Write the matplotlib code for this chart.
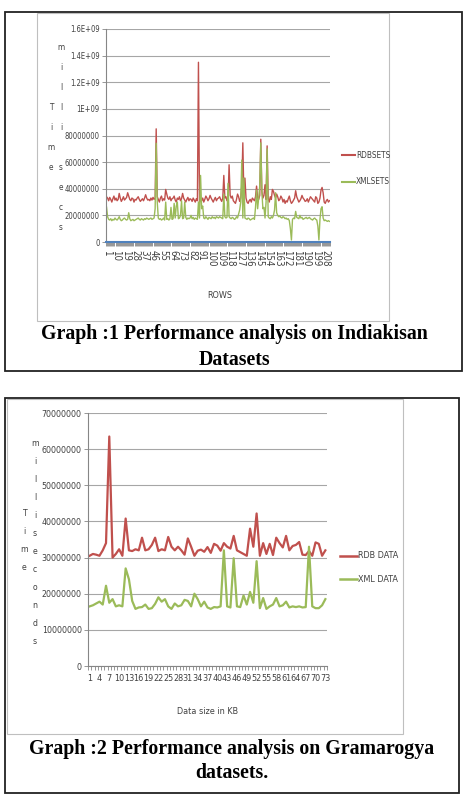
import matplotlib
matplotlib.use("Agg")
import matplotlib.pyplot as plt
from matplotlib import font_manager
from matplotlib.lines import Line2D
import numpy as np

W, H = 465, 795
RED = "#C0504D"
GREEN = "#9BBB59"
BLUE = "#4F81BD"
GRID = "#A6A6A6"
TXT = "#404040"
SERIF = ["Liberation Serif", "DejaVu Serif"]

# pick a narrow sans for the Excel-style labels, shrink if none is installed
_fonts = {(f.name, f.stretch) for f in font_manager.fontManager.ttflist}
_names = {f[0] for f in _fonts}
if "Liberation Sans Narrow" in _names:
    NARROW, STRETCH, SCALE = ["Liberation Sans Narrow"], "normal", 1.0
elif ("DejaVu Sans", "condensed") in _fonts:
    NARROW, STRETCH, SCALE = ["DejaVu Sans"], "condensed", 0.92
else:
    NARROW, STRETCH, SCALE = ["Liberation Sans", "DejaVu Sans"], "normal", 0.82

# ---- Graph 1: Indiakisan datasets (values in millions of ms) ----
rdb_sets = [
    340, 330, 310, 335, 320, 300, 325, 345, 315, 330,
    310, 320, 365, 330, 305, 320, 340, 315, 325, 335,
    370, 345, 320, 310, 330, 325, 300, 320, 315, 330,
    340, 320, 305, 315, 325, 310, 330, 355, 330, 315,
    320, 310, 330, 315, 335, 320, 330, 850, 340, 320,
    300, 330, 345, 310, 325, 315, 395, 360, 330, 320,
    340, 310, 325, 330, 345, 315, 300, 330, 320, 340,
    310, 325, 365, 330, 315, 300, 320, 335, 310, 325,
    320, 305, 330, 315, 300, 325, 310, 1350, 300, 320,
    310, 330, 300, 320, 345, 330, 310, 325, 350, 330,
    315, 300, 320, 335, 310, 325, 330, 340, 320, 305,
    330, 500, 330, 340, 310, 320, 580, 350, 330, 345,
    310, 300, 290, 320, 360, 340, 305, 330, 420, 745,
    340, 480, 330, 300, 290, 310, 320, 300, 330, 320,
    310, 340, 420, 330, 320, 350, 772, 380, 330, 350,
    430, 320, 722, 330, 300, 340, 320, 395, 380, 350,
    330, 360, 340, 310, 320, 345, 330, 300, 320, 290,
    310, 300, 325, 345, 310, 290, 300, 315, 330, 385,
    340, 320, 300, 310, 325, 350, 330, 320, 305, 310,
    325, 300, 320, 340, 330, 320, 310, 300, 340, 330,
    290, 300, 330, 390, 410, 370, 300, 290, 310, 320,
    300, 310,
]
xml_sets = [
    262, 190, 170, 165, 175, 160, 170, 165, 180, 170,
    165, 175, 190, 170, 160, 165, 175, 180, 170, 165,
    170, 220, 175, 160, 165, 170, 160, 165, 170, 175,
    180, 170, 165, 175, 170, 165, 175, 170, 180, 175,
    170, 175, 180, 170, 175, 180, 250, 742, 300, 180,
    170, 175, 165, 170, 180, 165, 300, 170, 175, 165,
    175, 260, 170, 175, 290, 180, 270, 300, 175, 180,
    200, 310, 175, 180, 300, 185, 170, 180, 175, 180,
    200, 175, 185, 170, 180, 175, 170, 300, 180, 500,
    250, 270, 180, 175, 190, 180, 170, 185, 180, 175,
    190, 180, 185, 175, 190, 185, 180, 190, 185, 180,
    175, 360, 190, 180, 185, 440, 190, 180, 175, 185,
    180, 170, 175, 190, 180, 210, 240, 300, 615, 180,
    480, 180, 175, 170, 180, 175, 165, 170, 175, 180,
    170, 260, 390, 250, 330, 420, 745, 380, 250, 260,
    180, 300, 700, 190, 180, 175, 190, 180, 200, 240,
    370, 220, 200, 190, 195, 185, 180, 190, 185, 175,
    180, 170, 175, 160, 100, 15, 170, 180, 175, 230,
    185, 180, 175, 200, 180, 185, 170, 175, 180, 185,
    175, 180, 185, 175, 170, 165, 175, 180, 170, 165,
    120, 15, 170, 250, 265, 180, 160, 165, 160, 155,
    160, 155,
]
g1_yticks = [0, 200, 400, 600, 800, 1000, 1200, 1400, 1600]
g1_ylabels = ["0", "20000000", "40000000", "60000000", "80000000",
              "1E+09", "1.2E+09", "1.4E+09", "1.6E+09"]
g1_xlabels = [1, 10, 19, 28, 37, 46, 55, 64, 73, 82, 91, 100, 109, 118,
              127, 136, 145, 154, 163, 172, 181, 190, 199, 208]

# ---- Graph 2: Gramarogya datasets (values in millions of ms) ----
rdb_data = [
    30.5, 31.0, 30.8, 30.5, 32.0, 34.0, 63.5, 30.0, 31.0, 32.3,
    30.5, 40.8, 32.0, 31.8, 32.3, 32.0, 35.5, 32.0, 32.3, 33.5,
    35.5, 31.8, 32.3, 32.0, 35.7, 33.0, 32.0, 33.0, 32.0, 30.8,
    35.3, 33.0, 30.5, 31.9, 32.2, 31.6, 32.9, 31.3, 33.8, 33.3,
    31.9, 34.0, 33.0, 32.5, 36.0, 32.0, 31.5, 31.0, 30.5, 38.0,
    33.0, 42.2, 30.5, 34.0, 31.0, 33.8, 30.7, 35.5, 34.0, 32.8,
    36.0, 32.0, 33.2, 33.5, 34.3, 30.8, 30.7, 31.8, 30.5, 34.2,
    33.8, 30.5, 32.0,
]
xml_data = [
    16.5, 16.8, 17.3, 17.8, 17.0, 22.2, 17.5, 18.5, 16.5, 16.8,
    16.5, 27.0, 24.0, 18.0, 15.8, 16.2, 16.3, 17.0, 15.8, 16.0,
    17.2, 19.0, 17.8, 18.5, 16.5, 15.8, 17.3, 16.5, 16.8, 18.3,
    18.0, 16.5, 20.0, 18.5, 16.5, 17.8, 16.2, 15.8, 16.3, 16.2,
    16.5, 32.0, 16.5, 16.2, 29.8, 16.5, 16.3, 19.5, 17.0, 20.5,
    17.5, 29.0, 16.0, 18.8, 15.8, 16.5, 17.0, 18.8, 16.5, 16.8,
    17.8, 16.2, 16.5, 16.3, 16.5, 16.2, 16.3, 33.0, 16.5, 16.0,
    16.0, 16.8, 18.5,
]
g2_yticks = [0, 10, 20, 30, 40, 50, 60, 70]
g2_ylabels = ["0", "10000000", "20000000", "30000000", "40000000",
              "50000000", "60000000", "70000000"]
g2_xlabels = list(range(1, 74, 3))


def fx(x):
    return x / W


def fy(y):
    return 1 - y / H


def box(fig, x0, y0, x1, y1, color, lw):
    fig.add_artist(plt.Rectangle((fx(x0), fy(y1)), (x1 - x0) / W, (y1 - y0) / H,
                                 transform=fig.transFigure, fill=False,
                                 edgecolor=color, linewidth=lw))


def label(fig, x, y, s, size, ha="center"):
    fig.text(fx(x), fy(y), s, ha=ha, va="center", fontsize=size * SCALE,
             color=TXT, family=NARROW, stretch=STRETCH)


def legend_item(fig, x0, x1, y, color, lw, text, size):
    fig.add_artist(Line2D([fx(x0), fx(x1)], [fy(y), fy(y)], color=color, lw=lw,
                          transform=fig.transFigure))
    label(fig, x1 + 1, y, text, size, ha="left")


def stacked(fig, x, ys, letters, size):
    for y, ch in zip(ys, letters):
        label(fig, x, y, ch, size)


def style_axes(ax, n, ymax, yticks, ylabels, xlabels, ysize, xsize, xrot, xpad):
    ax.set_xlim(0.5, n + 0.5)
    ax.set_ylim(0, ymax)
    ax.set_yticks(yticks)
    ax.set_yticklabels(ylabels, family=NARROW, stretch=STRETCH,
                       fontsize=ysize * SCALE, color=TXT)
    ax.set_xticks(xlabels)
    ax.set_xticklabels([str(v) for v in xlabels], family=NARROW, stretch=STRETCH,
                       fontsize=xsize * SCALE, color=TXT, rotation=xrot)
    ax.set_xticks(np.arange(0.5, n + 1), minor=True)
    ax.tick_params(axis="x", which="major", length=0, pad=xpad)
    ax.tick_params(axis="x", which="minor", length=3, color="#868686", width=0.6)
    ax.tick_params(axis="y", length=3, color="#868686", width=0.6, pad=1.5)
    ax.grid(axis="y", color=GRID, lw=0.8)
    ax.set_axisbelow(True)
    for side in ("top", "right"):
        ax.spines[side].set_visible(False)
    ax.spines["left"].set_color("#868686")
    ax.spines["bottom"].set_color("#868686")


fig = plt.figure(figsize=(W / 100, H / 100), dpi=100)
fig.patch.set_facecolor("white")

# Graph 1
ax1 = fig.add_axes([fx(106), fy(242), (330 - 106) / W, (242 - 29) / H])
n1 = len(rdb_sets)
x1 = np.arange(1, n1 + 1)
ax1.plot(x1, rdb_sets, color=RED, lw=1.0)
ax1.plot(x1, xml_sets, color=GREEN, lw=1.0)
style_axes(ax1, n1, 1600, g1_yticks, g1_ylabels, g1_xlabels, 6.0, 7.5, -90, 6)
ax1.spines["bottom"].set_color(BLUE)
ax1.spines["bottom"].set_linewidth(1.5)

box(fig, 37, 13, 389, 321, "#BFBFBF", 0.8)
box(fig, 5, 12, 462, 371, "#222222", 1.3)
stacked(fig, 51, [107, 128, 148, 168], "Time", 6.5)
stacked(fig, 61, [48, 68, 88, 108, 128, 168, 188, 208, 228], "millisecs", 6.5)
label(fig, 220, 296, "ROWS", 7)
legend_item(fig, 342, 355, 155, RED, 1.5, "RDBSETS", 6.5)
legend_item(fig, 342, 355, 182, GREEN, 1.5, "XMLSETS", 6.5)
fig.text(fx(234), fy(334), "Graph :1 Performance analysis on Indiakisan",
         ha="center", va="center", fontsize=14.3, fontweight="bold", family=SERIF)
fig.text(fx(234), fy(360), "Datasets", ha="center", va="center", fontsize=14.3,
         fontweight="bold", family=SERIF)

# Graph 2
ax2 = fig.add_axes([fx(88), fy(666), (327 - 88) / W, (666 - 413) / H])
n2 = len(rdb_data)
x2 = np.arange(1, n2 + 1)
ax2.plot(x2, rdb_data, color=RED, lw=1.6)
ax2.plot(x2, xml_data, color=GREEN, lw=1.6)
style_axes(ax2, n2, 70, g2_yticks, g2_ylabels, g2_xlabels, 6.9, 7.0, 0, 6)

box(fig, 7, 399, 403, 734, "#BFBFBF", 0.8)
box(fig, 5, 398, 459, 793, "#222222", 1.3)
stacked(fig, 24, [514, 531, 549, 567], "Time", 6.8)
stacked(fig, 35, [443 + 18 * k for k in range(12)], "milliseconds", 6.8)
label(fig, 208, 711, "Data size in KB", 7)
legend_item(fig, 340, 357, 556, RED, 1.8, "RDB DATA", 7)
legend_item(fig, 340, 357, 579, GREEN, 1.8, "XML DATA", 7)
fig.text(fx(232), fy(749), "Graph :2 Performance analysis on Gramarogya",
         ha="center", va="center", fontsize=14.3, fontweight="bold", family=SERIF)
fig.text(fx(232), fy(773), "datasets.", ha="center", va="center", fontsize=14.3,
         fontweight="bold", family=SERIF)

fig.savefig("out.png", dpi=100, facecolor="white")
